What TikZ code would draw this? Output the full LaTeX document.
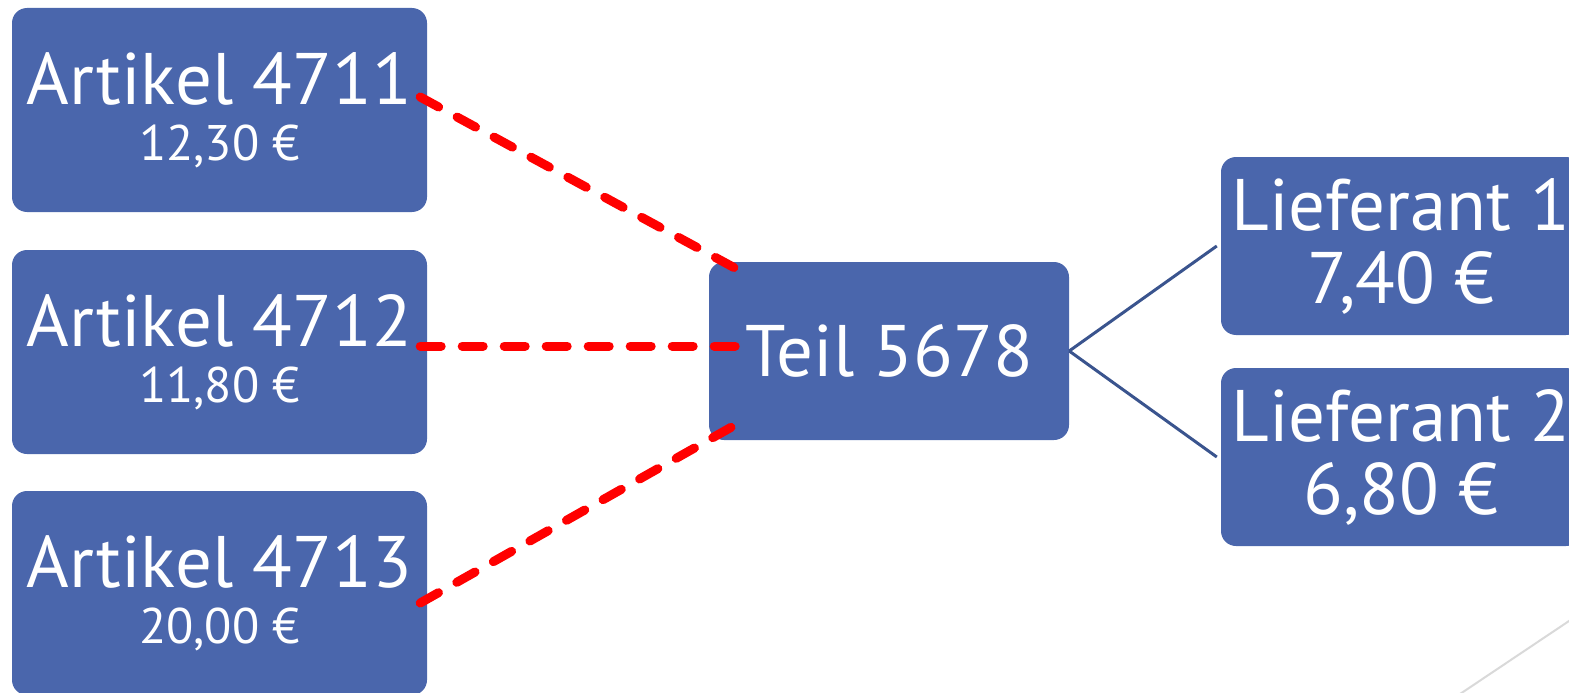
\documentclass[tikz,border=0pt]{standalone}
\usepackage{fontspec}
\setmainfont{PT Sans}
\usepackage{xcolor}
\usepackage{tikz}
\usetikzlibrary{positioning}

\definecolor{boxblue}{RGB}{74,102,172}
\definecolor{lineblue}{RGB}{58,84,142}

\begin{document}
\begin{tikzpicture}[
            x=1pt, y=-1pt,
            every node/.style={fill=boxblue, text=white, rounded corners=15pt, align=center, inner sep=0pt},
            artbox/.style={minimum width=415pt, minimum height=204pt, font=\fontsize{73}{56}\selectfont},
            partbox/.style={minimum width=360pt, minimum height=178pt, font=\fontsize{73}{73}\selectfont},
            link/.style={red, line width=9pt, line cap=round, dash pattern=on 21pt off 21pt},
            supply/.style={lineblue, line width=3pt},
        ]
        \useasboundingbox (0,0) rectangle (1569,693);
        \clip (0,0) rectangle (1569,693);
        \node (a1) at (219.5,110) [artbox] {Artikel 4711\\{\fontsize{50}{56}\selectfont 12,30 €}};
        \node (a2) at (219.5,352) [artbox] {Artikel 4712\\{\fontsize{50}{56}\selectfont 11,80 €}};
        \node (a3) at (219.5,593) [artbox] {Artikel 4713\\{\fontsize{50}{56}\selectfont 20,00 €}};
        \node (teil) at (889,351) [partbox] {Teil 5678};
        \node (l1) at (1401,246) [partbox] {Lieferant 1\\7,40 €};
        \node (l2) at (1401,457) [partbox] {Lieferant 2\\6,80 €};
        \draw[link] ([xshift=-7pt,yshift=13pt]a1.east) -- ([xshift=33pt,yshift=-10pt]teil.north west);
        \draw[link] ([xshift=-7pt,yshift=6pt]a2.east) -- ([xshift=33pt,yshift=5pt]teil.west);
        \draw[link] ([xshift=-7pt,yshift=-10pt]a3.east) -- ([xshift=26pt,yshift=15pt]teil.south west);
        \draw[supply] (teil.east) -- ([xshift=-4pt]l1.west);
        \draw[supply] (teil.east) -- ([xshift=-4pt]l2.west);
        % slide decoration
        \draw[gray!30, line width=2pt] (1460,694) -- (1572,619);
\end{tikzpicture}
\end{document}
